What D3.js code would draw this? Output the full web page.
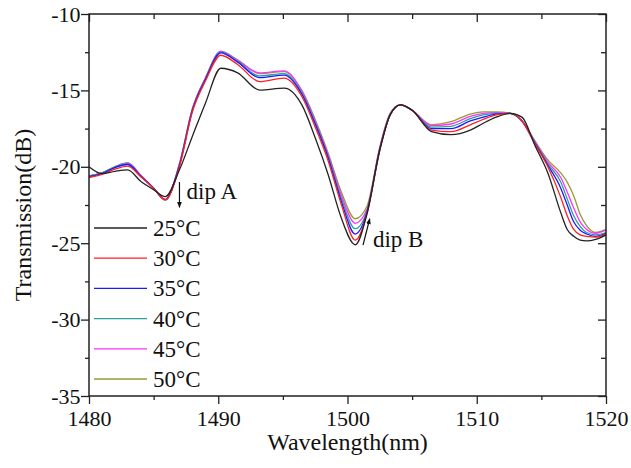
<!DOCTYPE html>
<html><head><meta charset="utf-8">
<script src="https://cdn.jsdelivr.net/npm/d3@7"></script>
<style>
html,body{margin:0;padding:0;background:#fff;}
svg text{font-family:"Liberation Serif","Times New Roman",serif;fill:#111;}
</style></head>
<body><svg id="c" width="631" height="468"></svg>
<script>
const wavelengths = [1480,1481,1482,1483,1484,1485,1485.9,1487,1488,1489,1490.2,1491.5,1493.2,1495.1,1496.5,1497.5,1498.5,1499.5,1500.6,1501.5,1502.5,1503.3,1504.1,1505,1506.5,1508,1509.5,1510.5,1511.5,1512.6,1513.5,1514.5,1515.5,1516.5,1517,1517.5,1518,1518.5,1519.2,1520];
const t25 = [-20.0,-20.45,-20.3,-20.2,-20.95,-21.5,-21.95,-20.2,-18.0,-15.85,-13.55,-13.85,-14.98,-14.85,-16.0,-18.1,-20.5,-23.3,-25.1,-23.1,-18.9,-16.6,-15.95,-16.3,-17.7,-17.9,-17.6,-17.15,-16.75,-16.5,-16.75,-18.6,-20.4,-23.0,-24.1,-24.55,-24.8,-24.85,-24.75,-24.45];
const t30 = [-20.7,-20.5,-20.15,-19.95,-20.65,-21.4,-22.15,-20.0,-16.4,-14.4,-12.7,-13.3,-14.43,-14.2,-15.45,-17.4,-19.6,-22.4,-24.8,-23.1,-18.9,-16.6,-15.95,-16.3,-17.6,-17.7,-17.25,-16.9,-16.6,-16.5,-17.0,-18.5,-20.0,-22.0,-23.2,-24.1,-24.45,-24.55,-24.6,-24.4];
const t35 = [-20.65,-20.45,-20.05,-19.85,-20.6,-21.4,-22.15,-19.9,-16.3,-14.3,-12.55,-13.15,-14.17,-14.0,-15.3,-17.2,-19.4,-22.2,-24.4,-23.0,-18.85,-16.6,-15.95,-16.3,-17.5,-17.5,-17.0,-16.75,-16.55,-16.5,-17.0,-18.45,-19.9,-21.4,-22.5,-23.6,-24.15,-24.4,-24.55,-24.35];
const t40 = [-20.6,-20.4,-20.0,-19.8,-20.6,-21.4,-22.15,-19.85,-16.25,-14.25,-12.5,-13.1,-14.05,-13.9,-15.2,-17.1,-19.3,-22.0,-24.05,-22.9,-18.8,-16.55,-15.95,-16.3,-17.4,-17.35,-16.85,-16.6,-16.5,-16.5,-17.0,-18.4,-19.8,-21.0,-22.1,-23.2,-23.9,-24.3,-24.45,-24.3];
const t45 = [-20.6,-20.4,-20.0,-19.75,-20.55,-21.4,-22.15,-19.8,-16.2,-14.2,-12.45,-13.05,-13.85,-13.72,-15.1,-17.0,-19.2,-21.8,-23.7,-22.8,-18.75,-16.55,-15.95,-16.3,-17.3,-17.2,-16.7,-16.5,-16.45,-16.5,-17.0,-18.35,-19.7,-20.7,-21.65,-22.7,-23.6,-24.1,-24.35,-24.15];
const t50 = [-20.6,-20.4,-20.0,-19.75,-20.55,-21.4,-22.2,-19.8,-16.2,-14.2,-12.45,-13.0,-13.9,-13.77,-15.05,-16.9,-19.1,-21.6,-23.4,-22.6,-18.7,-16.5,-15.95,-16.3,-17.25,-17.05,-16.55,-16.4,-16.4,-16.5,-17.0,-18.3,-19.55,-20.4,-21.0,-21.9,-23.1,-23.85,-24.3,-24.1];
const seriesNames = ["25\u00B0C","30\u00B0C","35\u00B0C","40\u00B0C","45\u00B0C","50\u00B0C"];
const seriesValues = [t25,t30,t35,t40,t45,t50];
const seriesColors = ["#222222","#ff2020","#1a1aff","#2aa0a0","#ff30ff","#9a9a30"];
const xTicks = [1480,1490,1500,1510,1520];
const yTicks = [-35,-30,-25,-20,-15,-10];
const annotations = [
  {label:"dip A", x1:1487.0, y1:-21.0, x2:1487.0, y2:-22.65, tx:1487.55, ty:-22.1},
  {label:"dip B", x1:1501.2, y1:-25.12, x2:1501.72, y2:-23.4, tx:1501.97, ty:-25.25}
];

const svg = d3.select("#c");
const pL=89, pR=606, pT=14, pB=396;
const x = d3.scaleLinear().domain([1480,1520]).range([pL,pR]);
const y = d3.scaleLinear().domain([-35,-10]).range([pB,pT]);
const tickFont = 22, titleFont = 24, labelFont = 23;

const line = d3.line().x(d=>x(d[0])).y(d=>y(d[1])).curve(d3.curveMonotoneX);
[5,4,3,2,1,0].forEach(i=>{
  svg.append("path")
    .datum(wavelengths.map((w,j)=>[w,seriesValues[i][j]]))
    .attr("d",line).attr("fill","none")
    .attr("stroke",seriesColors[i]).attr("stroke-width",1.3);
});

const xMinor = d3.range(1485,1520,10);
const yMinor = d3.range(-32.5,-10,5);
const gB = svg.append("g").attr("transform",`translate(0,${pB})`)
  .call(d3.axisBottom(x).tickValues(xTicks).tickSize(8).tickFormat(d3.format("d")));
const gL = svg.append("g").attr("transform",`translate(${pL},0)`)
  .call(d3.axisLeft(y).tickValues(yTicks).tickSize(8).tickFormat(d=>"-"+Math.abs(d)));
svg.append("g").attr("transform",`translate(0,${pT})`)
  .call(d3.axisTop(x).tickValues(xTicks).tickSize(-8).tickFormat(""));
svg.append("g").attr("transform",`translate(${pR},0)`)
  .call(d3.axisRight(y).tickValues(yTicks).tickSize(-8).tickFormat(""));
svg.append("g").attr("transform",`translate(0,${pB})`).call(d3.axisBottom(x).tickValues(xMinor).tickSize(4).tickFormat(""));
svg.append("g").attr("transform",`translate(${pL},0)`).call(d3.axisLeft(y).tickValues(yMinor).tickSize(4).tickFormat(""));
svg.append("g").attr("transform",`translate(0,${pT})`).call(d3.axisTop(x).tickValues(xMinor).tickSize(-5).tickFormat(""));
svg.append("g").attr("transform",`translate(${pR},0)`).call(d3.axisRight(y).tickValues(yMinor).tickSize(-5).tickFormat(""));
svg.selectAll(".domain").remove();
svg.selectAll(".tick line").attr("stroke","#222").attr("stroke-width",1.3);
svg.selectAll(".tick text").attr("font-size",tickFont).attr("fill","#111")
  .style("font-family",'"Liberation Serif","Times New Roman",serif');
gB.selectAll(".tick text").attr("dy","0.95em").attr("y",9);
gL.selectAll(".tick text").attr("x",-8.5);
svg.append("rect").attr("x",pL).attr("y",pT).attr("width",pR-pL).attr("height",pB-pT)
  .attr("fill","none").attr("stroke","#222").attr("stroke-width",1.5);

svg.append("text").attr("x",(pL+pR)/2).attr("y",450).attr("text-anchor","middle")
  .attr("font-size",titleFont).text("Wavelength(nm)");
svg.append("text").attr("transform",`translate(31,215) rotate(-90)`)
  .attr("text-anchor","middle").attr("font-size",titleFont).text("Transmission(dB)");

const lg = svg.append("g");
seriesNames.forEach((n,i)=>{
  const yy = 228 + i*30.2;
  lg.append("line").attr("x1",94).attr("x2",147).attr("y1",yy).attr("y2",yy)
    .attr("stroke",seriesColors[i]).attr("stroke-width",1.3);
  lg.append("text").attr("x",153).attr("y",yy).attr("dy","0.35em")
    .attr("font-size",labelFont).text(n);
});

svg.append("defs").append("marker").attr("id","ah").attr("viewBox","0 0 10 10")
  .attr("refX",9).attr("refY",5).attr("markerWidth",6).attr("markerHeight",8)
  .attr("orient","auto").attr("markerUnits","userSpaceOnUse")
  .append("path").attr("d","M0,1 L10,5 L0,9 Z").attr("fill","#111");
annotations.forEach(a=>{
  svg.append("line").attr("x1",x(a.x1)).attr("y1",y(a.y1)).attr("x2",x(a.x2)).attr("y2",y(a.y2))
    .attr("stroke","#111").attr("stroke-width",1.2).attr("marker-end","url(#ah)");
  svg.append("text").attr("x",x(a.tx)).attr("y",y(a.ty)).attr("font-size",labelFont).text(a.label);
});
</script></body></html>
